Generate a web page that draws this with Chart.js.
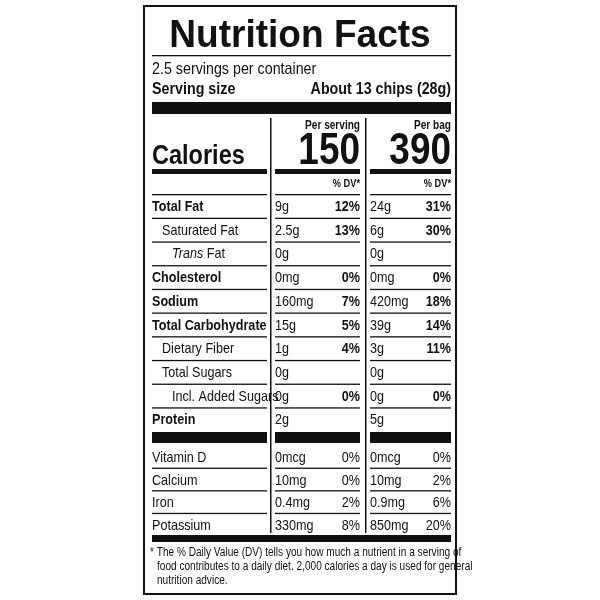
<!DOCTYPE html>
<html>
<head>
<meta charset="utf-8">
<script src="https://cdn.jsdelivr.net/npm/chart.js@4"></script>
<style>
html,body{margin:0;padding:0;background:#fff}
#wrap{width:600px;height:600px}
</style>
</head>
<body>
<div id="wrap"><canvas id="chart"></canvas></div>
<script>
var FONT = "'Liberation Sans',Arial,sans-serif";
var SQUEEZE = 0.84;

// label data
var nutrients = ['Total Fat','Saturated Fat','Trans Fat','Cholesterol','Sodium','Total Carbohydrate','Dietary Fiber','Total Sugars','Incl. Added Sugars','Protein'];
var nutrientBold = [true,false,false,true,true,true,false,false,false,true];
var nutrientIndent = [0,10,20,0,0,0,10,10,20,0];
var servingAmount = ['9g','2.5g','0g','0mg','160mg','15g','1g','0g','0g','2g'];
var servingDV = ['12%','13%','','0%','7%','5%','4%','','0%',''];
var bagAmount = ['24g','6g','0g','0mg','420mg','39g','3g','0g','0g','5g'];
var bagDV = ['31%','30%','','0%','18%','14%','11%','','0%',''];

var vitamins = ['Vitamin D','Calcium','Iron','Potassium'];
var vitServingAmount = ['0mcg','10mg','0.4mg','330mg'];
var vitServingDV = ['0%','0%','2%','8%'];
var vitBagAmount = ['0mcg','10mg','0.9mg','850mg'];
var vitBagDV = ['0%','2%','6%','20%'];

var caloriesServing = '150';
var caloriesBag = '390';
var footnote = ['* The % Daily Value (DV) tells you how much a nutrient in a serving of',
                'food contributes to a daily diet. 2,000 calories a day is used for general',
                'nutrition advice.'];

var labelPlugin = {
    id: 'label',
    afterDraw: function(chart){
        var ctx = chart.ctx;
        var xs = chart.scales.x, ys = chart.scales.y;
        function X(v){return xs.getPixelForValue(v);}
        function Y(v){return ys.getPixelForValue(v);}
        // squeezed text, like a condensed face
        function text(s, x, y, size, bold, align, italic, sq){
            sq = sq || SQUEEZE;
            ctx.save();
            ctx.font = (italic ? 'italic ' : '') + (bold ? 'bold ' : '') + size + 'px ' + FONT;
            ctx.textAlign = align || 'left';
            ctx.textBaseline = 'alphabetic';
            ctx.fillStyle = '#111';
            ctx.translate(X(x), Y(y));
            ctx.scale(sq, 1);
            ctx.fillText(s, 0, 0);
            var w = ctx.measureText(s).width * sq;
            ctx.restore();
            return w;
        }
        function rect(x1, y1, x2, y2){
            ctx.fillStyle = '#111';
            ctx.fillRect(X(x1), Y(y1), X(x2) - X(x1), Y(y2) - Y(y1));
        }
        function hline(x1, x2, y){ rect(x1, y, x2, y + 1.3); }
        ctx.save();

        ctx.strokeStyle = '#111';
        ctx.lineWidth = 2;
        ctx.strokeRect(X(144), Y(6), X(456) - X(144), Y(594) - Y(6));

        text('Nutrition Facts', 300, 47, 39, true, 'center', false, 0.95);
        hline(152, 451, 55);
        text('2.5 servings per container', 152, 74, 17, false);
        text('Serving size', 152, 94, 17, true);
        text('About 13 chips (28g)', 451, 94, 17, true, 'right');
        rect(152, 102, 451, 114);

        rect(270, 118, 271.5, 533);
        rect(365, 118, 366.5, 533);

        text('Per serving', 360, 129, 12, true, 'right');
        text('Per bag', 451, 129, 12, true, 'right');
        text('Calories', 152, 164, 28, true);
        text(caloriesServing, 360, 164, 44, true, 'right');
        text(caloriesBag, 451, 164, 44, true, 'right');
        rect(152, 169, 267, 174); rect(275, 169, 360, 174); rect(370, 169, 451, 174);
        text('% DV*', 360, 187, 11, true, 'right');
        text('% DV*', 451, 187, 11, true, 'right');

        var rowH = 23.7, top = 194;
        for (var i = 0; i < nutrients.length; i++) {
            var y0 = top + i * rowH;
            hline(152, 267, y0); hline(275, 360, y0); hline(370, 451, y0);
            var base = y0 + 17;
            if (nutrients[i] == 'Trans Fat') {
                var w = text('Trans ', 152 + nutrientIndent[i], base, 15, false, 'left', true);
                text('Fat', 152 + nutrientIndent[i] + w, base, 15, false);
            } else {
                text(nutrients[i], 152 + nutrientIndent[i], base, 15, nutrientBold[i]);
            }
            text(servingAmount[i], 275, base, 15, false);
            text(servingDV[i], 360, base, 15, true, 'right');
            text(bagAmount[i], 370, base, 15, false);
            text(bagDV[i], 451, base, 15, true, 'right');
        }
        rect(152, 432, 267, 443); rect(275, 432, 360, 443); rect(370, 432, 451, 443);

        var vTop = 445, vH = 22.6;
        for (var j = 0; j < vitamins.length; j++) {
            var vy = vTop + j * vH;
            if (j > 0) { hline(152, 267, vy); hline(275, 360, vy); hline(370, 451, vy); }
            var vb = vy + 17;
            text(vitamins[j], 152, vb, 15, false);
            text(vitServingAmount[j], 275, vb, 15, false);
            text(vitServingDV[j], 360, vb, 15, false, 'right');
            text(vitBagAmount[j], 370, vb, 15, false);
            text(vitBagDV[j], 451, vb, 15, false, 'right');
        }
        rect(152, 535, 451, 542);

        text(footnote[0], 150, 556, 12, false);
        text(footnote[1], 157, 570, 12, false);
        text(footnote[2], 157, 584, 12, false);
        ctx.restore();
    }
};

var config = {
    type: 'scatter',
    data: { datasets: [{ data: [] }] },
    options: {
        responsive: true,
        maintainAspectRatio: false,
        animation: false,
        layout: { padding: 0 },
        plugins: { legend: { display: false }, tooltip: { enabled: false } },
        scales: {
            x: { type: 'linear', min: 0, max: 600, display: false },
            y: { type: 'linear', min: 0, max: 600, reverse: true, display: false }
        }
    },
    plugins: [labelPlugin]
};
var chart = new Chart(document.getElementById('chart'), config);
</script>
</body>
</html>
